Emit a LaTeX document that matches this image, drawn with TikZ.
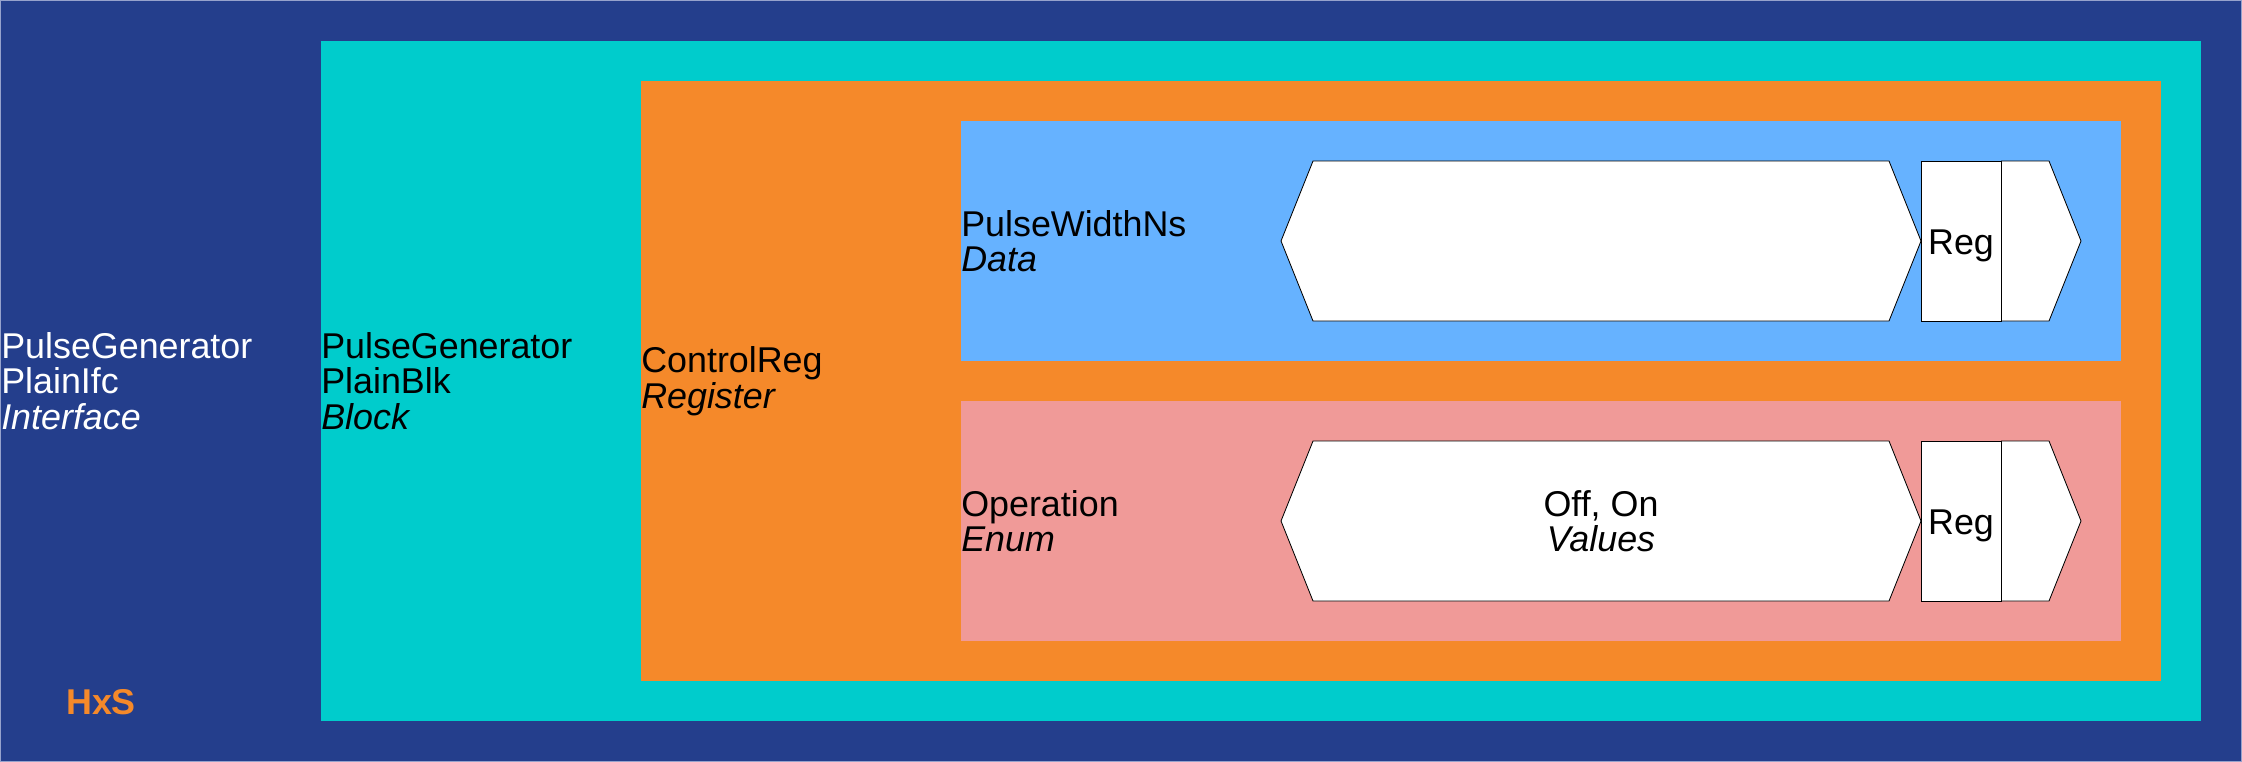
\documentclass[tikz,border=0pt]{standalone}
\usepackage{fontspec}
\setmainfont{Liberation Sans}
\definecolor{ifcnavy}{RGB}{36,62,140}
\definecolor{ifcedge}{RGB}{150,162,204}
\definecolor{blkcyan}{RGB}{0,204,204}
\definecolor{regorange}{RGB}{245,137,42}
\definecolor{datablue}{RGB}{102,178,255}
\definecolor{enumpink}{RGB}{240,154,152}
\begin{document}
\begin{tikzpicture}[x=1cm, y=-1cm, font=\fontsize{25.5}{25.3}\selectfont,
	lbl/.style={anchor=west, align=left, inner sep=0pt},
	shp/.style={draw=black, fill=white, line width=0.6pt}]
	%frame
	\useasboundingbox (-0.025,-0.025) rectangle (56.025,19.025);
	\fill[ifcedge] (-0.025,-0.025) rectangle (56.025,19.025);
	\fill[ifcnavy] (0,0) rectangle (56,19);
	%nested boxes
	\fill[blkcyan] (8,1) rectangle (55,18);
	\fill[regorange] (16,2) rectangle (54,17);
	\fill[datablue] (24,3) rectangle (53,9);
	\fill[enumpink] (24,10) rectangle (53,16);
	%labels
	\node[lbl, text=white] (ifc) at (0,9.5) {PulseGenerator\\PlainIfc\\\textit{Interface}};
	\node[lbl] (blk) at (8,9.5) {PulseGenerator\\PlainBlk\\\textit{Block}};
	\node[lbl] (reg) at (16,9.5) {ControlReg\\\textit{Register}};
	\node[anchor=base, inner sep=0pt, text=regorange, font=\fontsize{25.5}{25.3}\selectfont\bfseries] (hxs) at (2.5,17.825) {HxS};
	%fields
	\foreach \yc/\fname/\ftype in {6/PulseWidthNs/Data, 13/Operation/Enum} {
		\node[lbl] (fld\yc) at (24,\yc) {\fname\\\textit{\ftype}};
		\draw[shp] (32,\yc) -- (32.8,\yc-2) -- (47.2,\yc-2) -- (48,\yc)
			-- (47.2,\yc+2) -- (32.8,\yc+2) -- cycle;
		\draw[shp] (50,\yc-2) -- (51.2,\yc-2) -- (52,\yc) -- (51.2,\yc+2) -- (50,\yc+2);
		\draw[shp] (48,\yc-2) rectangle (50,\yc+2);
		\node[anchor=base, inner sep=0pt] (regtag\yc) at (49,\yc+0.325) {Reg};
	}
	%values
	\node[align=center, inner sep=0pt] (vals) at (40,13) {Off, On\\\textit{Values}};
\end{tikzpicture}
\end{document}
